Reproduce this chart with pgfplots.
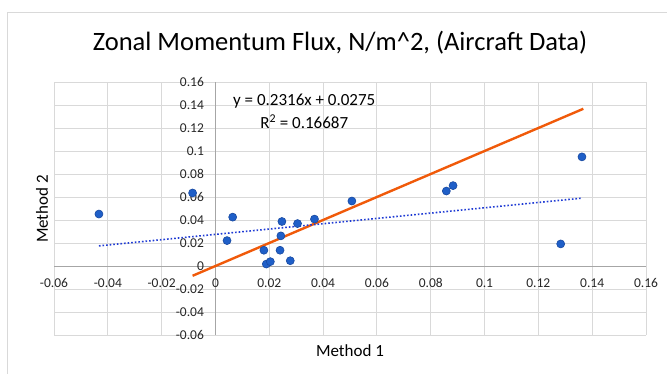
\documentclass[border=0pt]{standalone}
\usepackage{pgfplots}
\pgfplotsset{compat=1.18}
\usepackage{fontspec}
\setmainfont{Carlito}
\definecolor{ptfill}{HTML}{1F5FC8}
\definecolor{ptedge}{HTML}{1849A0}
\definecolor{orangeline}{HTML}{F05A0A}
\definecolor{trend}{HTML}{1F3BD4}
\definecolor{gridc}{HTML}{D9D9D9}
\definecolor{axisc}{HTML}{A6A6A6}
\pgfplotstableread{
x y
-0.0433 0.0452
-0.0085 0.0635
0.0064 0.0425
0.0043 0.0221
0.0180 0.0137
0.0189 0.0017
0.0204 0.0038
0.0247 0.0387
0.0243 0.0262
0.0240 0.0137
0.0278 0.0046
0.0305 0.0369
0.0368 0.0408
0.0507 0.0565
0.0858 0.0652
0.0883 0.0699
0.1362 0.0949
0.1283 0.0192
}\pts
\begin{document}
\begin{tikzpicture}
\useasboundingbox (0pt,0pt) rectangle (667pt,373pt);
\draw[draw=gridc, line width=0.9pt] (7.5pt,-2pt) -- (7.5pt,360.3pt) -- (670pt,360.3pt);
\node[font=\fontsize{26.5}{30}\selectfont, anchor=base] at (340pt,322pt) {Zonal Momentum Flux, N/m\textasciicircum 2, (Aircraft Data)};
\begin{axis}[at={(54pt,38pt)}, anchor=south west, scale only axis,
  width=592pt, height=253pt,
  xmin=-0.06, xmax=0.16, ymin=-0.06, ymax=0.16,
  axis lines=middle, axis line style={draw=axisc, -, line width=0.9pt},
  hide obscured x ticks=false, hide obscured y ticks=false,
  grid=major, major grid style={draw=gridc, line width=0.9pt},
  xtick={-0.06,-0.04,-0.02,0,0.02,0.04,0.06,0.08,0.1,0.12,0.14,0.16},
  xticklabels={-0.06,-0.04,-0.02,0,0.02,0.04,0.06,0.08,0.1,0.12,0.14,0.16},
  ytick={-0.06,-0.04,-0.02,0,0.02,0.04,0.06,0.08,0.1,0.12,0.14,0.16},
  yticklabels={-0.06,-0.04,-0.02,0,0.02,0.04,0.06,0.08,0.1,0.12,0.14,0.16},
  major tick length=0pt,
  ticklabel style={font=\fontsize{13.5}{15}\selectfont, text=black!85},
  xticklabel style={yshift=-9pt},
  yticklabel style={xshift=-8pt},
  clip=false,
]
\addplot[orangeline, line width=2.4pt] coordinates {(-0.0085,-0.0085) (0.1367,0.1367)};
\addplot[trend, line width=1.6pt, dotted] coordinates {(-0.0433,0.0175) (0.1362,0.0590)};
\addplot[only marks, mark=*, mark size=4pt, mark options={fill=ptfill, draw=ptedge, line width=0.6pt}] table {\pts};
\node[font=\fontsize{17}{20}\selectfont] at (axis cs:0.033,0.1435) {y = 0.2316x + 0.0275};
\node[font=\fontsize{17}{20}\selectfont] at (axis cs:0.033,0.1254) {R\textsuperscript{2} = 0.16687};
\end{axis}
\node[font=\fontsize{17}{20}\selectfont] at (350pt,22.3pt) {Method 1};
\node[font=\fontsize{17}{20}\selectfont, rotate=90] at (42pt,164pt) {Method 2};
\end{tikzpicture}
\end{document}
